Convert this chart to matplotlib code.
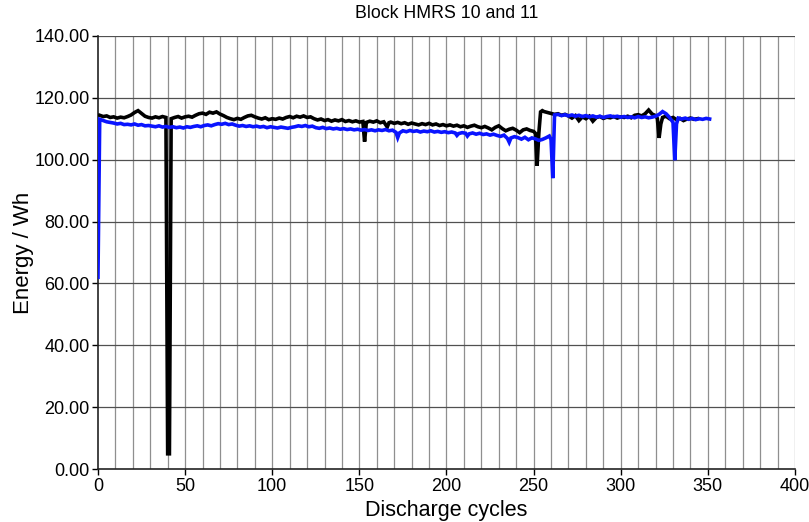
import matplotlib
matplotlib.use("Agg")
import matplotlib.pyplot as plt
from matplotlib.ticker import FormatStrFormatter

plt.rcParams['font.family'] = ['Liberation Sans', 'DejaVu Sans']

# Black series (Block HMRS 10)
cycles_black = [1, 3, 5, 7, 9, 11, 13, 15, 17, 19, 21, 23, 25, 27, 29, 31, 33, 35, 37, 39,
                40, 41, 42, 44, 46, 48, 50, 52, 54, 56, 58, 60, 62, 64, 66, 68, 70, 72, 74, 76,
                78, 80, 82, 84, 86, 88, 90, 92, 94, 96, 98, 100, 102, 104, 106, 108, 110, 112, 114, 116,
                118, 120, 122, 124, 126, 128, 130, 132, 134, 136, 138, 140, 142, 144, 146, 148, 150, 152, 153, 154,
                156, 158, 160, 162, 164, 166, 167, 168, 170, 172, 174, 176, 178, 180, 182, 184, 186, 188, 190, 192,
                194, 196, 198, 200, 202, 204, 206, 208, 210, 212, 214, 216, 218, 220, 222, 224, 226, 228, 230, 232,
                234, 236, 238, 240, 242, 244, 246, 248, 250, 251, 252, 253, 254, 255, 256, 258, 260, 262, 264, 266,
                268, 270, 272, 274, 276, 278, 280, 282, 284, 286, 288, 290, 292, 294, 296, 298, 300, 302, 304, 306,
                308, 310, 312, 314, 316, 318, 320, 321, 322, 323, 324, 326, 328, 330, 332, 334, 336, 338, 340, 342, 344]
energy_black = [114.3, 113.9, 114.1, 113.6, 113.8, 113.4, 113.7, 113.5, 113.9, 114.4, 115.2, 115.8, 114.9, 114.0, 113.6, 113.4, 113.8, 113.5, 113.9, 113.6,
                5.0, 5.0, 113.2, 113.6, 113.9, 113.4, 113.8, 114.0, 113.7, 114.3, 114.8, 115.0, 114.6, 115.3, 115.0, 115.4, 114.7, 114.2, 113.6, 113.2,
                112.9, 113.3, 113.0, 113.6, 114.1, 114.3, 113.8, 113.4, 113.1, 113.5, 112.9, 113.2, 113.0, 113.4, 113.1, 113.6, 113.9, 113.5, 114.0, 113.7,
                114.1, 113.6, 113.8, 113.2, 112.8, 113.1, 112.6, 112.9, 112.4, 112.8, 112.5, 112.9, 112.3, 112.6, 112.2, 112.5, 112.1, 112.3, 105.8, 112.0,
                112.4, 112.1, 112.5, 111.9, 112.2, 110.5, 111.9, 112.1, 111.7, 112.0, 111.6, 111.9, 111.4, 111.8, 111.5, 111.2, 111.6, 111.3, 111.7, 111.2,
                111.5, 111.0, 111.3, 110.9, 111.2, 110.8, 111.1, 110.6, 110.9, 110.4, 110.8, 111.1, 110.6, 110.3, 110.7, 110.2, 109.6, 110.4, 110.9, 110.0,
                109.3, 109.8, 110.1, 109.5, 108.7, 109.6, 109.9, 109.4, 109.1, 108.5, 98.0, 108.6, 115.4, 115.8, 115.5, 115.2, 114.9, 114.6, 114.8, 114.3,
                114.6, 114.1, 113.4, 114.2, 112.6, 113.8, 113.2, 114.0, 112.4, 113.6, 113.9, 113.3, 113.7, 113.5, 113.9, 113.4, 113.8, 113.6, 114.0, 113.5,
                114.3, 114.5, 114.1, 114.8, 116.0, 114.7, 114.2, 113.3, 107.0, 111.5, 113.6, 114.0, 113.2, 113.6, 112.9, 113.3, 112.6, 113.1, 113.4, 113.0, 113.2]

# Blue series (Block HMRS 11)
cycles_blue = [0, 1, 3, 5, 7, 9, 11, 13, 15, 17, 19, 21, 23, 25, 27, 29, 31, 33, 35, 37,
               39, 41, 43, 45, 47, 49, 51, 53, 55, 57, 59, 61, 63, 65, 67, 69, 71, 73, 75, 77,
               79, 81, 83, 85, 87, 89, 91, 93, 95, 97, 99, 101, 103, 105, 107, 109, 111, 113, 115, 117,
               119, 121, 123, 125, 127, 129, 131, 133, 135, 137, 139, 141, 143, 145, 147, 149, 151, 153, 155, 157,
               159, 161, 163, 165, 167, 169, 171, 172, 173, 175, 177, 179, 181, 183, 185, 187, 189, 191, 193, 195,
               197, 199, 201, 203, 205, 206, 207, 209, 211, 212, 213, 215, 217, 219, 221, 223, 225, 227, 229, 231,
               233, 235, 236, 237, 239, 241, 243, 245, 247, 249, 251, 253, 255, 257, 259, 260, 261, 262, 264, 266,
               268, 270, 272, 274, 276, 278, 280, 282, 284, 286, 288, 290, 292, 294, 296, 298, 300, 302, 304, 306,
               308, 310, 312, 314, 316, 318, 320, 322, 324, 326, 328, 330, 331, 332, 333, 335, 337, 339, 341, 343,
               345, 347, 349, 351]
energy_blue = [62.0, 113.0, 112.6, 112.2, 112.0, 111.8, 111.5, 111.7, 111.3, 111.4, 111.2, 111.5, 111.1, 111.3, 110.9, 111.0, 110.8, 110.6, 110.9, 110.5,
               110.7, 110.4, 110.6, 110.3, 110.5, 110.2, 110.6, 110.4, 110.7, 110.9, 110.6, 111.0, 111.2, 110.9, 111.3, 111.6, 111.4, 111.7, 111.3, 111.5,
               111.1, 110.8, 111.0, 110.7, 110.9, 110.6, 110.8, 110.5, 110.7, 110.3, 110.6, 110.4, 110.2, 110.5, 110.3, 110.1, 110.4, 110.6, 110.9, 110.7,
               111.0, 110.6, 110.8, 110.3, 110.1, 110.4, 110.0, 110.2, 109.9, 110.1, 109.8, 110.0, 109.7, 109.9, 109.6, 109.8, 109.5, 109.7, 109.4, 109.6,
               109.3, 109.6, 109.4, 109.7, 109.3, 109.5, 108.8, 107.1, 108.6, 109.3, 109.0, 109.4, 109.1, 109.3, 108.9, 109.2, 109.0, 109.3, 108.9, 109.1,
               108.8, 109.0, 108.7, 108.9, 108.6, 107.8, 108.4, 108.7, 108.5, 107.6, 108.3, 108.6, 108.2, 108.5, 108.1, 108.3, 107.9, 108.2, 107.8, 107.5,
               107.9, 106.8, 105.6, 107.0, 107.4, 107.1, 106.6, 107.2, 106.4, 107.0, 106.7, 106.2, 106.5, 107.0, 107.6, 106.5, 94.0, 114.4, 114.6, 114.2,
               114.5, 114.1, 114.4, 114.0, 114.3, 113.9, 114.2, 113.8, 114.1, 113.7, 114.0, 113.6, 113.9, 114.1, 113.8, 114.0, 113.7, 113.9, 113.6, 113.8,
               113.5, 113.9, 113.6, 113.8, 113.5, 113.7, 114.0, 114.6, 115.5, 114.8, 113.6, 112.0, 99.8, 111.5, 113.4, 113.1, 113.4, 113.0, 113.3, 112.9,
               113.2, 113.0, 113.3, 113.1]

x_ticks = [0, 50, 100, 150, 200, 250, 300, 350, 400]
y_ticks = [0, 20, 40, 60, 80, 100, 120, 140]

fig = plt.figure(figsize=(8.09, 5.22), dpi=100)
ax = fig.add_axes([0.1211, 0.101, 0.8616, 0.8306])

ax.set_xlim(0, 400)
ax.set_ylim(0, 140)

for xv in range(10, 401, 10):
    ax.axvline(xv, color='#8f8f8f', lw=0.9, zorder=1)
for yv in y_ticks[1:]:
    ax.axhline(yv, color='#505050', lw=0.9, zorder=1)

ax.plot(cycles_black, energy_black, color='black', lw=2.6, zorder=3, solid_joinstyle='miter')
ax.plot(cycles_blue, energy_blue, color='#0a14ff', lw=2.6, zorder=4, solid_joinstyle='miter')

ax.set_xticks(x_ticks)
ax.set_yticks(y_ticks)
ax.yaxis.set_major_formatter(FormatStrFormatter('%.2f'))
ax.tick_params(axis='both', direction='out', length=4, width=1, labelsize=13, colors='black', pad=2)

for s in ['top', 'right']:
    ax.spines[s].set_visible(False)
for s in ['left', 'bottom']:
    ax.spines[s].set_color('#222222')
    ax.spines[s].set_linewidth(1.2)

ax.set_xlabel('Discharge cycles', fontsize=15.5, labelpad=4)
ax.set_ylabel('Energy / Wh', fontsize=16, labelpad=0)
ax.set_title('Block HMRS 10 and 11', fontsize=12.8, pad=12.5)

fig.savefig('out.png', dpi=100)
